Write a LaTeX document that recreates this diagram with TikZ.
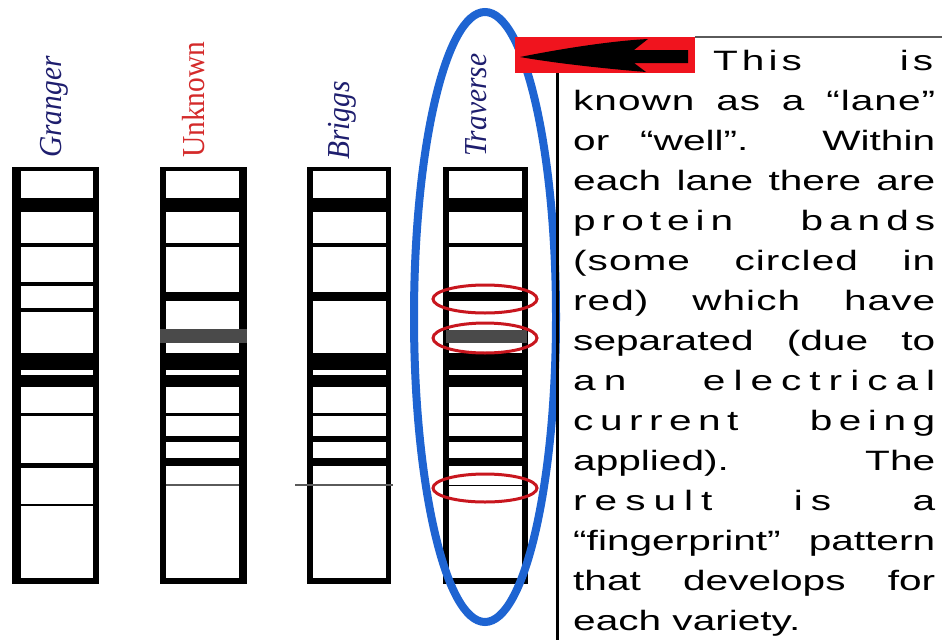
\documentclass[tikz,border=0pt]{standalone}
\usepackage{fontspec}
\newfontfamily\bodyfont[FakeStretch=1.45]{Liberation Sans}
\newfontfamily\labfont[FakeStretch=0.92]{Liberation Serif}
\ExplSyntaxOn
\dim_new:N \l_lsp_dim
\NewDocumentCommand\setlsp{m}{\dim_set:Nn \l_lsp_dim {#1}}
\NewDocumentCommand\spw{m}{\tl_map_inline:nn {#1}{##1\kern\l_lsp_dim}\unkern}
\ExplSyntaxOff
\newcommand\jline[3]{\makebox[#1][s]{\setlsp{#2}#3}}
\definecolor{navy}{HTML}{1E1E6E}
\definecolor{labred}{HTML}{D42A2A}
\definecolor{ovalblue}{HTML}{1E64D2}
\definecolor{ringred}{HTML}{C8161E}
\definecolor{boxred}{HTML}{F0141E}
\definecolor{bandgray}{HTML}{4A4A4A}
\definecolor{linegray}{HTML}{5A5A5A}
\tikzset{
  lanelabel/.style={rotate=90, anchor=base west, inner sep=0pt, font=\labfont\fontsize{32}{36}\selectfont},
  bodyline/.style={anchor=base west, inner sep=0pt, font=\bodyfont\fontsize{28}{34}\selectfont},
}
\begin{document}
\begin{tikzpicture}[x=1pt,y=-1pt]
\useasboundingbox (0,0) rectangle (942,640);
\fill[white] (0,0) rectangle (942,640);
% lanes
\foreach \l/\r/\il/\ir in {12/99/21/93, 160/247/166/239, 307/391/313/386, 443/528/449/522}{
  \fill[black] (\l,167) rectangle (\r,584);
  \fill[white] (\il,171) rectangle (\ir,578);
}
% Granger bands
\foreach \a/\b in {198/212, 243/247, 282/286, 308/312, 353/370, 375/387, 413/416, 463/468, 504/506}
  \fill (21,\a) rectangle (93,\b);
% Unknown bands
\foreach \a/\b in {198/212, 243/247, 292/301, 353/370, 375/387, 413/416, 436/442, 458/466}
  \fill (166,\a) rectangle (239,\b);
\fill[bandgray] (160,329) rectangle (247,343);
\fill[linegray] (166,484) rectangle (239,486);
% Briggs bands
\foreach \a/\b in {198/212, 243/247, 292/301, 353/370, 375/387, 413/416, 436/442, 458/466}
  \fill (313,\a) rectangle (386,\b);
\draw[linegray, line width=1.2pt] (295,485) -- (393,485);
% Traverse bands
\foreach \a/\b in {198/212, 243/247, 292/301, 353/370, 375/387, 413/416, 436/442, 458/466}
  \fill (449,\a) rectangle (522,\b);
\fill[bandgray] (446,330) rectangle (527,343);
\fill (449,484.5) rectangle (522,486);
% labels
\node[lanelabel, text=navy] (granger) at (61,158) {\itshape Granger};
\node[lanelabel, text=labred] (unknown) at (204,158) {Unknown};
\node[lanelabel, text=navy] (briggs) at (349,160) {\itshape Briggs};
\node[lanelabel, text=navy] (traverse) at (486,157) {\itshape Traverse};
% blue oval round the Traverse lane
\draw[ovalblue, line width=8pt] (485,317) ellipse [x radius=71, y radius=305];
% red rings
\draw[ringred, line width=3pt] (485,299) ellipse [x radius=52, y radius=14];
\draw[ringred, line width=3pt] (485,338) ellipse [x radius=52, y radius=15];
\draw[ringred, line width=3pt] (485,488) ellipse [x radius=52, y radius=14];
% red box with arrow
\fill[boxred] (515,37) rectangle (695,73);
\fill[black] (520,57) .. controls (560,49) and (610,41) .. (648,39) -- (634,50) -- (688,50) -- (688,63) -- (634,63) -- (646,72) .. controls (610,69) and (560,64) .. (520,57) -- cycle;
% frame lines
\coordinate (boxtr) at (695,37);
\coordinate (boxbl) at (557.5,73);
\coordinate (edgeR) at (942,37);
\coordinate (edgeB) at (557.5,640);
\draw[linegray, line width=1.5pt] (boxtr) -- (edgeR);
\draw[black, line width=3.5pt] (boxbl) -- (edgeB);
% text
\node[bodyline] (t1) at (713,70) {\jline{220pt}{4pt}{\spw{This} \spw{is}}};
\node[bodyline] (t2) at (573,110) {\jline{362pt}{1pt}{\spw{known} \spw{as} \spw{a} \spw{“lane”}}};
\node[bodyline] (t3) at (573,150) {\jline{362pt}{0pt}{or “well”. Within}};
\node[bodyline] (t4) at (573,190) {\jline{362pt}{0pt}{each lane there are}};
\node[bodyline] (t5) at (573,230) {\jline{362pt}{6pt}{\spw{protein} \spw{bands}}};
\node[bodyline] (t6) at (573,270) {\jline{362pt}{1pt}{\spw{(some} \spw{circled} \spw{in}}};
\node[bodyline] (t7) at (573,310) {\jline{362pt}{1pt}{\spw{red)} \spw{which} \spw{have}}};
\node[bodyline] (t8) at (573,350) {\jline{362pt}{0pt}{separated (due to}};
\node[bodyline] (t9) at (573,390) {\jline{362pt}{8pt}{\spw{an} \spw{electrical}}};
\node[bodyline] (t10) at (573,430) {\jline{362pt}{6.5pt}{\spw{current} \spw{being}}};
\node[bodyline] (t11) at (573,470) {\jline{362pt}{0pt}{applied). The}};
\node[bodyline] (t12) at (573,510) {\jline{362pt}{8pt}{\spw{result} \spw{is} \spw{a}}};
\node[bodyline] (t13) at (573,550) {\jline{362pt}{0pt}{“fingerprint” pattern}};
\node[bodyline] (t14) at (573,590) {\jline{362pt}{0pt}{that develops for}};
\node[bodyline] (t15) at (573,630) {each variety.};
\end{tikzpicture}
\end{document}
